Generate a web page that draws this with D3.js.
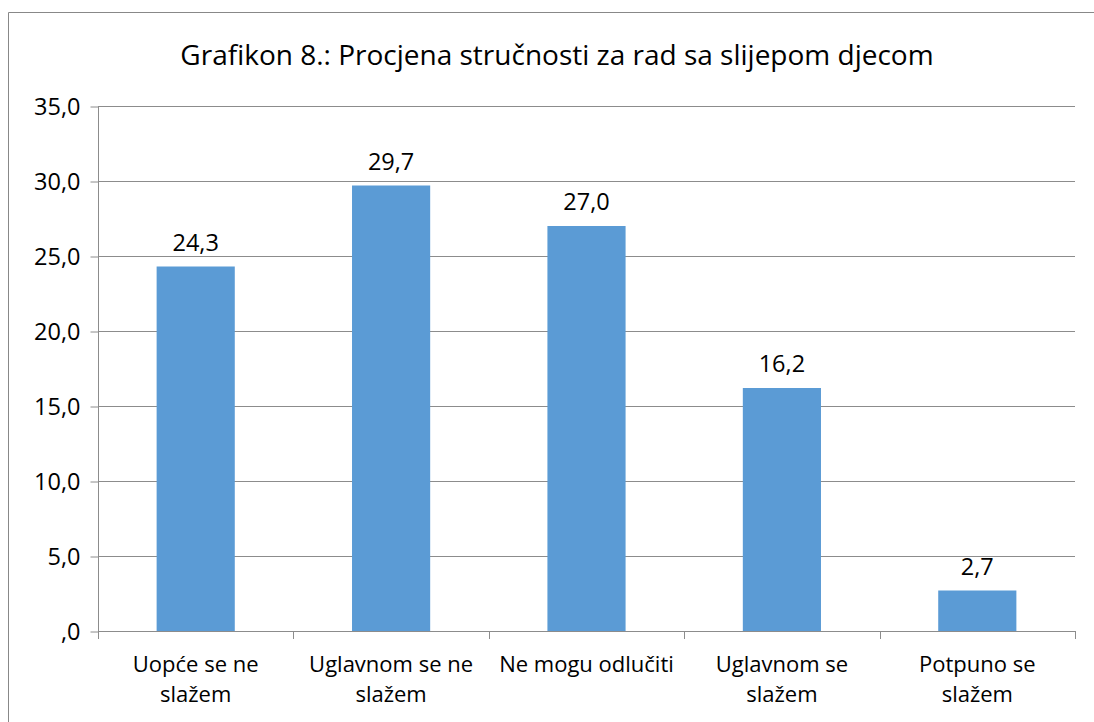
<!DOCTYPE html>
<html>
<head>
<meta charset="utf-8">
<script src="https://cdn.jsdelivr.net/npm/d3@7"></script>
<style>
  body { margin: 0; background: #fff; }
  svg { display: block; font-family: "Open Sans", "Noto Sans", sans-serif; }
</style>
</head>
<body>
<div id="chart"></div>
<script>
const title = 'Grafikon 8.: Procjena stručnosti za rad sa slijepom djecom';
const categories = [
  ['Uopće se ne', 'slažem'],
  ['Uglavnom se ne', 'slažem'],
  ['Ne mogu odlučiti'],
  ['Uglavnom se', 'slažem'],
  ['Potpuno se', 'slažem']
];
const values = [24.3, 29.7, 27.0, 16.2, 2.7];
const yTicks = [0, 5, 10, 15, 20, 25, 30, 35];

const W = 1094, H = 722;
const plotLeft = 98, plotRight = 1075, plotTop = 106, plotBottom = 631;

const fmt = v => {
  const s = v.toFixed(1).replace('.', ',');
  return s.startsWith('0') ? s.slice(1) : s;
};

const svg = d3.select('#chart').append('svg')
  .attr('width', W)
  .attr('height', H);

// chart frame
svg.append('path')
  .attr('d', `M8.5,${H} V12.5 H${W}`)
  .attr('fill', 'none')
  .attr('stroke', '#888')
  .attr('stroke-width', 1);

svg.append('text')
  .attr('x', 557)
  .attr('y', 65)
  .attr('text-anchor', 'middle')
  .style('font-size', '28px')
  .style('fill', '#000')
  .text(title);

const x = d3.scaleBand()
  .domain(d3.range(categories.length))
  .range([plotLeft, plotRight]);

const y = d3.scaleLinear()
  .domain([0, 35])
  .range([plotBottom, plotTop]);

// gridlines
svg.append('g')
  .selectAll('line')
  .data(yTicks.slice(1))
  .enter()
  .append('line')
  .attr('x1', plotLeft)
  .attr('x2', plotRight)
  .attr('y1', d => Math.round(y(d)) + 0.5)
  .attr('y2', d => Math.round(y(d)) + 0.5)
  .attr('stroke', '#8c8c8c');

// y axis
const yAxis = svg.append('g')
  .attr('transform', `translate(${plotLeft + 0.5},0.5)`)
  .call(d3.axisLeft(y).tickValues(yTicks).tickFormat(fmt).tickSize(8).tickPadding(8));
yAxis.select('.domain').attr('stroke', '#8c8c8c').attr('d', `M0,${plotTop}V${plotBottom}`);
yAxis.selectAll('.tick line').attr('stroke', '#8c8c8c');
yAxis.selectAll('.tick text').style('font-size', '23.5px').style('fill', '#000')
  .attr('x', -18);
yAxis.attr('font-family', null).attr('font-size', null);

// bars
const barW = x.bandwidth() * 0.4;
svg.append('g')
  .selectAll('rect')
  .data(values)
  .enter()
  .append('rect')
  .attr('x', (d, i) => x(i) + (x.bandwidth() - barW) / 2)
  .attr('y', d => y(d))
  .attr('width', barW)
  .attr('height', d => plotBottom - y(d))
  .attr('fill', '#5b9bd5');

// value labels
svg.append('g')
  .selectAll('text')
  .data(values)
  .enter()
  .append('text')
  .attr('x', (d, i) => x(i) + x.bandwidth() / 2)
  .attr('y', d => y(d) - 16)
  .attr('text-anchor', 'middle')
  .style('font-size', '23.5px')
  .style('fill', '#000')
  .text(fmt);

// x axis
svg.append('line')
  .attr('x1', plotLeft).attr('x2', plotRight)
  .attr('y1', plotBottom + 0.5).attr('y2', plotBottom + 0.5)
  .attr('stroke', '#8c8c8c');
svg.append('g')
  .selectAll('line')
  .data(d3.range(categories.length + 1))
  .enter()
  .append('line')
  .attr('x1', i => Math.round(i < categories.length ? x(i) : plotRight) + 0.5)
  .attr('x2', i => Math.round(i < categories.length ? x(i) : plotRight) + 0.5)
  .attr('y1', plotBottom)
  .attr('y2', plotBottom + 8)
  .attr('stroke', '#8c8c8c');

const catLabels = svg.append('g')
  .selectAll('text')
  .data(categories)
  .enter()
  .append('text')
  .attr('text-anchor', 'middle')
  .style('font-size', '22px')
  .style('fill', '#000');
catLabels.selectAll('tspan')
  .data((d, i) => d.map(line => ({ line, i })))
  .enter()
  .append('tspan')
  .attr('x', d => x(d.i) + x.bandwidth() / 2)
  .attr('y', (d, j) => 672 + j * 30)
  .text(d => d.line);
</script>
</body>
</html>
